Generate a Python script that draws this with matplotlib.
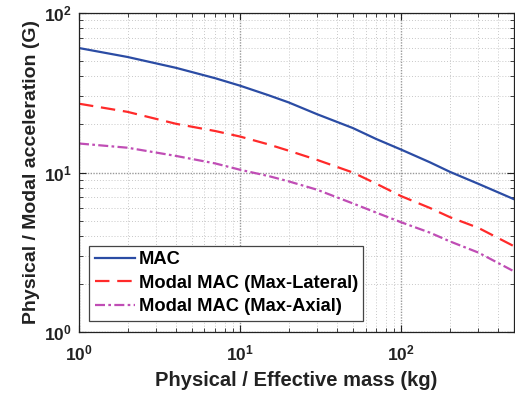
import matplotlib
matplotlib.use("Agg")
import matplotlib.pyplot as plt
from matplotlib.ticker import FuncFormatter, NullFormatter
import numpy as np

plt.rcParams['font.family'] = ['Liberation Sans', 'DejaVu Sans']
plt.rcParams['font.weight'] = 'bold'
plt.rcParams['mathtext.fontset'] = 'custom'
plt.rcParams['mathtext.bf'] = 'Liberation Sans:bold'
plt.rcParams['mathtext.rm'] = 'Liberation Sans:bold'

# data
mass = [1, 2, 4, 7, 10, 15, 20, 30, 50, 70, 100, 150, 200, 300, 500]
mac = [60.3, 53, 45.3, 39, 35, 30.5, 27.5, 23.2, 19, 16.2, 13.9, 11.6, 10.1, 8.5, 6.8]
modal_lat = [27, 24, 20.2, 18.2, 16.8, 15.0, 13.7, 12.0, 10.0, 8.5, 7.1, 6.0, 5.25, 4.5, 3.45]
modal_ax = [15.2, 14.3, 12.7, 11.4, 10.4, 9.5, 8.8, 7.8, 6.4, 5.6, 4.87, 4.2, 3.7, 3.15, 2.4]

labels = ['MAC', 'Modal MAC (Max-Lateral)', 'Modal MAC (Max-Axial)']
colors = ['#2b4ca4', '#ff2a2a', '#c04db5']

fig = plt.figure(figsize=(5.15, 3.97), dpi=100)
ax = fig.add_axes([79/515, 1-332/397, 435/515, 319/397])

ax.plot(mass, mac, color=colors[0], lw=1.6, label=labels[0])
ax.plot(mass, modal_lat, color=colors[1], lw=1.6, ls=(0, (6.5, 3.5)), label=labels[1])
ax.plot(mass, modal_ax, color=colors[2], lw=1.6, ls=(0, (4.5, 1.5, 1.2, 1.5)), label=labels[2])

ax.set_xscale('log')
ax.set_yscale('log')
ax.set_xlim(1, 500)
ax.set_ylim(1, 100)

fmt = FuncFormatter(lambda v, p: r'$\mathbf{10^{%d}}$' % int(round(np.log10(v))))
ax.xaxis.set_major_formatter(fmt)
ax.yaxis.set_major_formatter(fmt)
ax.xaxis.set_minor_formatter(NullFormatter())
ax.yaxis.set_minor_formatter(NullFormatter())

ax.grid(True, which='major', color='#999999', lw=1.0, ls=(0, (1, 1)))
ax.grid(True, which='minor', color='#c8c8c8', lw=0.7, ls=(0, (1, 2)))
ax.tick_params(which='both', direction='in', top=True, right=True, colors='#222222')
ax.tick_params(which='major', length=5, labelsize=12.5)
ax.tick_params(axis='x', which='major', pad=8)
ax.tick_params(axis='y', which='major', pad=5)
ax.tick_params(which='minor', length=3)
for s in ax.spines.values():
    s.set_color('#222222')
    s.set_linewidth(0.9)

ax.set_xlabel('Physical / Effective mass (kg)', fontsize=14.5, fontweight='bold', color='#222222', labelpad=6)
ax.set_ylabel('Physical / Modal acceleration (G)', fontsize=14, fontweight='bold', color='#222222', labelpad=3)

leg = ax.legend(loc='lower left', bbox_to_anchor=(0.023, 0.036), fontsize=13.2, fancybox=False,
                framealpha=1, edgecolor='#444444', borderpad=0.3, labelspacing=0.35,
                handlelength=2.2, handletextpad=0.2, borderaxespad=0)
leg.get_frame().set_linewidth(0.9)

fig.savefig('out.png', dpi=100)
